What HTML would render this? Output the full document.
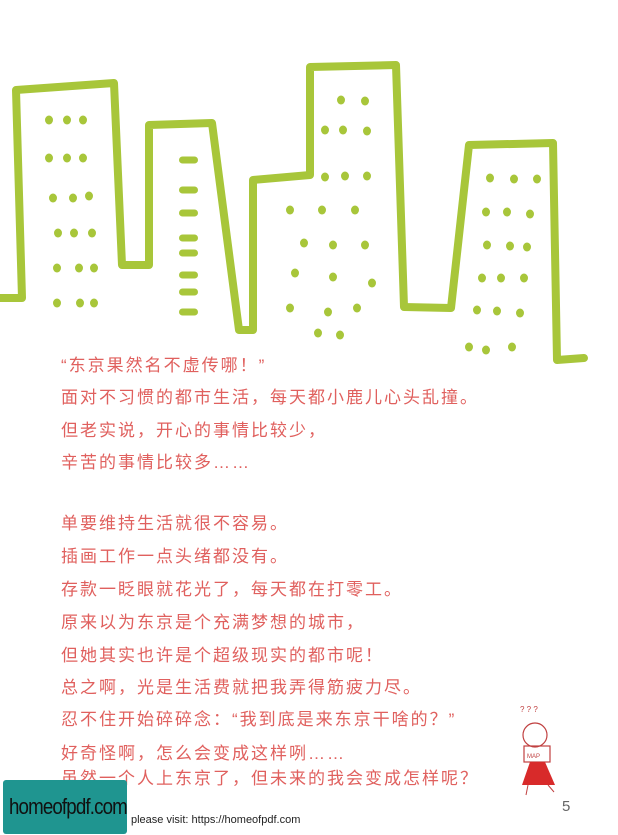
<!DOCTYPE html>
<html><head><meta charset="utf-8">
<style>
body{margin:0;width:618px;height:835px;background:#fff;position:relative;overflow:hidden;font-family:"Liberation Sans","Noto Sans CJK SC",sans-serif;}
.ln{position:absolute;left:61px;font-size:17px;letter-spacing:2px;color:#e0605e;line-height:20px;white-space:nowrap;}
</style></head><body>
<svg width="618" height="380" style="position:absolute;left:0;top:0">
<path d="M0,298 L22,298 L16,90 L114,83 L122,265 L149,265 L149,125 L212,123 L239,330 L253,330 L253,180 L310,175 L310,67 L396,65 L404,307 L451,308 L469,145 L553,143 L557,360 L584,358" fill="none" stroke="#a8c63a" stroke-width="8" stroke-linejoin="round" stroke-linecap="round"/>
<g fill="#a8c63a">
<g id="w"></g>
</g>
</svg>
<script>
var g=document.getElementById('w');
var dots=[[49,120],[67,120],[83,120],[49,158],[67,158],[83,158],[53,198],[73,198],[89,196],[58,233],[74,233],[92,233],[57,268],[79,268],[94,268],[57,303],[80,303],[94,303],
[341,100],[365,101],[325,130],[343,130],[367,131],[325,177],[345,176],[367,176],[290,210],[322,210],[355,210],[304,243],[333,245],[365,245],[295,273],[333,277],[372,283],[290,308],[328,312],[357,308],[318,333],[340,335],
[490,178],[514,179],[537,179],[486,212],[507,212],[530,214],[487,245],[510,246],[527,247],[482,278],[501,278],[524,278],[477,310],[497,311],[520,313],[469,347],[486,350],[512,347]];
dots.forEach(function(d){var e=document.createElementNS('http://www.w3.org/2000/svg','ellipse');


e.setAttribute('cx',d[0]);e.setAttribute('cy',d[1]);e.setAttribute('rx',4);e.setAttribute('ry',4.5);g.appendChild(e);});
[160,190,213,238,253,275,292,312].forEach(function(y){var e=document.createElementNS('http://www.w3.org/2000/svg','rect');


e.setAttribute('x',179);e.setAttribute('y',y-3.5);e.setAttribute('width',19);e.setAttribute('height',7);e.setAttribute('rx',3.5);g.appendChild(e);});
</script>
<div class="ln" style="top:356px">“东京果然名不虚传哪！”</div>
<div class="ln" style="top:388px">面对不习惯的都市生活，每天都小鹿儿心头乱撞。</div>
<div class="ln" style="top:421px">但老实说，开心的事情比较少，</div>
<div class="ln" style="top:453px">辛苦的事情比较多……</div>
<div class="ln" style="top:514px">单要维持生活就很不容易。</div>
<div class="ln" style="top:547px">插画工作一点头绪都没有。</div>
<div class="ln" style="top:580px">存款一眨眼就花光了，每天都在打零工。</div>
<div class="ln" style="top:613px">原来以为东京是个充满梦想的城市，</div>
<div class="ln" style="top:646px">但她其实也许是个超级现实的都市呢！</div>
<div class="ln" style="top:678px">总之啊，光是生活费就把我弄得筋疲力尽。</div>
<div class="ln" style="top:710px">忍不住开始碎碎念：“我到底是来东京干啥的？”</div>
<div class="ln" style="top:744px">好奇怪啊，怎么会变成这样咧……</div>
<div class="ln" style="top:769px">虽然一个人上东京了，但未来的我会变成怎样呢？</div>
<svg width="70" height="100" style="position:absolute;left:510px;top:700px">
<text x="10" y="12" font-size="8" fill="#c04040" font-family="Liberation Sans">? ? ?</text>
<circle cx="25" cy="35" r="12" fill="none" stroke="#c04040" stroke-width="1.2"/>
<rect x="14" y="46" width="26" height="16" fill="none" stroke="#c04040" stroke-width="1.2"/>
<text x="17" y="58" font-size="6" fill="#c04040" font-family="Liberation Sans">MAP</text>
<path d="M20,62 L12,85 L45,85 L35,62 Z" fill="#d82a2a"/>
<line x1="18" y1="85" x2="16" y2="95" stroke="#c04040"/><line x1="38" y1="85" x2="44" y2="92" stroke="#c04040"/>
</svg>
<div style="position:absolute;left:562px;top:798px;font-size:15px;color:#666">5</div>
<div style="position:absolute;left:3px;top:780px;width:124px;height:54px;background:#1f9590;border-radius:3px"><span style="position:absolute;left:6px;top:14px;font-size:22px;color:#111;letter-spacing:-1px;transform:scaleX(0.85);transform-origin:left;display:block;white-space:nowrap">homeofpdf.com</span></div>
<div style="position:absolute;left:131px;top:814px;font-size:11px;color:#222">please visit: https://homeofpdf.com</div>
</body></html>
